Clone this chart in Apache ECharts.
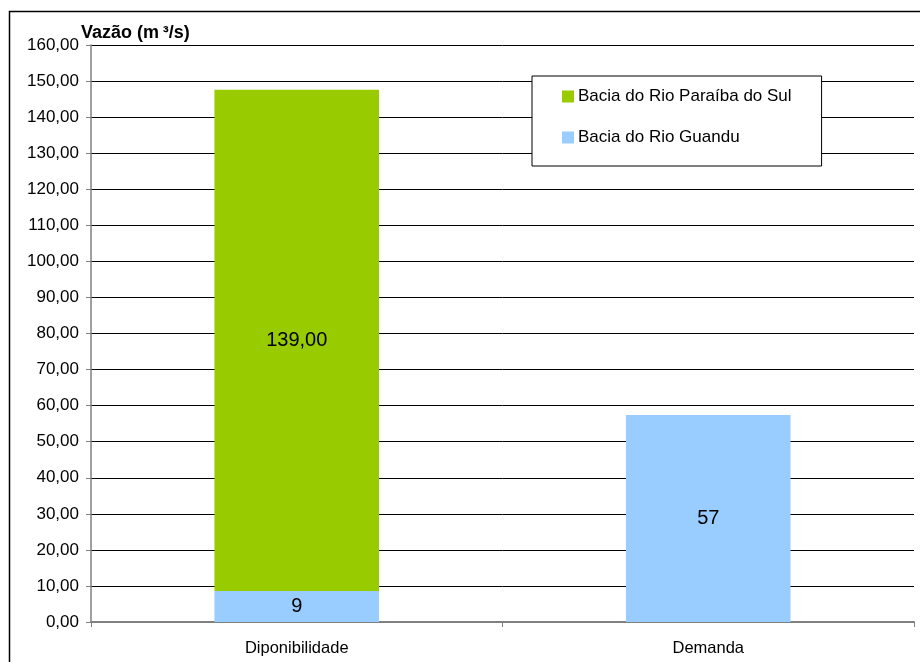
<!DOCTYPE html>
<html><head><meta charset="utf-8">
<script src="https://cdn.jsdelivr.net/npm/echarts@6/dist/echarts.min.js"></script>
<style>html,body{margin:0;padding:0;background:#fff}#c{width:920px;height:662px}</style>
</head><body><div id="c"></div>
<script>
const categories = ['Diponibilidade', 'Demanda'];
const guandu = [8.6, 57.4];
const paraiba = [139, null];
const seriesNames = ['Bacia do Rio Paraíba do Sul', 'Bacia do Rio Guandu'];
const yTicks = {min: 0, max: 160, interval: 10};

const chart = echarts.init(document.getElementById('c'), null, {renderer: 'canvas'});
const fmt2 = v => v.toFixed(2).replace('.', ',');
const FF = 'Liberation Sans, Arial, sans-serif';
chart.setOption({
  animation: false,
  textStyle: {fontFamily: FF},
  graphic: [
    {type: 'rect', shape: {x: 9.5, y: 11.5, width: 920, height: 700}, style: {fill: 'none', stroke: '#000', lineWidth: 1.5}, z: 100},
    {type: 'text', left: 81, top: 24, style: {text: 'Vazão (m\u2009³/s)', font: 'bold 18px ' + FF, fill: '#000'}}
  ],
  grid: {left: 91, right: 6, top: 45, bottom: 40},
  legend: {
    orient: 'vertical', left: 532, top: 76,
    padding: [12, 30, 20, 30],
    itemGap: 24, itemWidth: 12, itemHeight: 12,
    borderColor: '#000', borderWidth: 1, backgroundColor: '#fff',
    textStyle: {fontSize: 17, color: '#000', fontFamily: FF, padding: [0, 0, 0, -1]},
    data: [{name: seriesNames[0], icon: 'rect'}, {name: seriesNames[1], icon: 'rect'}]
  },
  xAxis: {
    type: 'category', data: categories,
    axisLine: {lineStyle: {color: '#808080', width: 2}},
    axisTick: {show: true, length: 5, lineStyle: {color: '#808080'}},
    axisLabel: {color: '#000', fontSize: 16.5, margin: 18}
  },
  yAxis: {
    type: 'value', min: yTicks.min, max: yTicks.max, interval: yTicks.interval,
    axisLine: {show: true, lineStyle: {color: '#808080', width: 1.5}},
    axisTick: {show: true, length: 5, lineStyle: {color: '#808080'}},
    axisLabel: {color: '#000', fontSize: 17, margin: 12, formatter: v => fmt2(v)},
    splitLine: {lineStyle: {color: '#000', width: 1}}
  },
  series: [
    {name: seriesNames[1], type: 'bar', stack: 's', data: guandu, barWidth: '40%',
     itemStyle: {color: '#99ccff'},
     label: {show: true, position: 'inside', color: '#000', fontSize: 20, formatter: p => String(Math.round(p.value))}},
    {name: seriesNames[0], type: 'bar', stack: 's', data: paraiba, barWidth: '40%',
     itemStyle: {color: '#99cc00'},
     label: {show: true, position: 'inside', color: '#000', fontSize: 20, formatter: p => fmt2(p.value)}}
  ]
});
</script></body></html>
